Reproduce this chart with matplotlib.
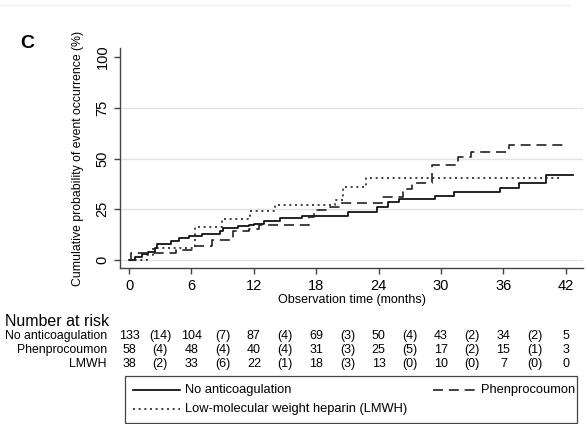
import numpy as np
import matplotlib
matplotlib.use("Agg")
import matplotlib.pyplot as plt
from matplotlib.transforms import blended_transform_factory
from matplotlib.lines import Line2D
from matplotlib.patches import Rectangle

plt.rcParams["font.family"] = ["Liberation Sans", "DejaVu Sans"]

# step curves: (time in months, cumulative %) after each jump
none_t = [0, 0.6, 1.2, 1.8, 2.5, 2.7, 4.0, 4.8, 5.8, 7.0, 8.7, 9.0, 10.5, 11.5, 12.0, 13.0, 14.5,
          16.6, 21.1, 23.8, 24.9, 26.0, 29.4, 31.2, 35.7, 37.5, 40.1, 42.7]
none_p = [0, 1.5, 3.0, 4.0, 6.0, 8.0, 9.5, 11.0, 12.0, 13.0, 14.2, 16.0, 16.8, 17.5, 18.0, 19.2, 20.5,
          21.7, 23.5, 26.0, 28.7, 30.0, 31.6, 33.5, 35.4, 37.8, 42.0, 42.0]

phen_t = [0, 0.2, 4.5, 6.2, 8.0, 10.0, 11.5, 12.5, 17.3, 17.8, 19.3, 20.2, 24.3, 26.3, 27.2,
          29.1, 31.6, 32.9, 36.5, 42.2]
phen_p = [0, 3.4, 5.2, 7.0, 10.0, 14.5, 15.5, 17.2, 21.0, 24.5, 26.0, 28.0, 31.0, 35.0, 37.9,
          47.0, 50.7, 53.3, 56.6, 56.6]

lmwh_t = [0, 1.7, 2.3, 6.3, 8.9, 11.6, 14.0, 19.8, 20.6, 22.8, 41.4]
lmwh_p = [0, 2.6, 5.9, 16.3, 20.0, 24.0, 27.0, 29.5, 36.0, 40.4, 40.4]

xticks = [0, 6, 12, 18, 24, 30, 36, 42]
yticks = [0, 25, 50, 75, 100]

risk_labels = ["No anticoagulation", "Phenprocoumon", "LMWH"]
at_risk = [[133, 104, 87, 69, 50, 43, 34, 5],
           [58, 48, 40, 31, 25, 17, 15, 3],
           [38, 33, 22, 18, 13, 10, 7, 0]]
censored = [[14, 7, 4, 3, 4, 2, 2],
            [4, 4, 4, 3, 5, 2, 1],
            [2, 6, 1, 3, 0, 0, 0]]

W, H = 587, 424
fig = plt.figure(figsize=(W / 100, H / 100), dpi=100)
ax = fig.add_axes([120 / W, 1 - 268 / H, (583 - 120) / W, (268 - 48) / H])

for y in [0, 25, 50, 75]:
    ax.axhline(y, color="#e3e3e3", lw=1.0, zorder=0)

ax.step(none_t, none_p, where="post", color="black", lw=1.2)
ax.step(phen_t, phen_p, where="post", color="#222222", lw=1.2, dashes=(6, 3.5))
ax.step(lmwh_t, lmwh_p, where="post", color="#222222", lw=1.2, dashes=(1.2, 2.2))

ax.set_xlim(-0.87, 43.65)
ax.set_ylim(-3.9, 104.4)
ax.set_xticks(xticks)
ax.set_yticks(yticks)
ax.tick_params(axis="both", labelsize=10.5, color="#444444", length=4, width=1)
ax.tick_params(axis="x", pad=4)
for lab in ax.get_yticklabels():
    lab.set_rotation(90)
    lab.set_va("center")
for s in ["top", "right"]:
    ax.spines[s].set_visible(False)
for s in ["left", "bottom"]:
    ax.spines[s].set_color("#444444")
    ax.spines[s].set_linewidth(1.0)
ax.set_xlabel("Observation time (months)", fontsize=9, labelpad=1)
ax.set_ylabel("Cumulative probability of event occurrence (%)", fontsize=8.8, labelpad=8)

fig.text(20 / W, 1 - 43 / H, "C", fontsize=14, fontweight="bold", va="center")
fig.add_artist(Line2D([0, 570 / W], [1 - 5 / H, 1 - 5 / H], color="#eeeeee", lw=1))

# number at risk table
tr = blended_transform_factory(ax.transData, fig.transFigure)
fig.text(5 / W, 1 - 321 / H, "Number at risk", fontsize=11.5, va="center")
row_y = [336, 350, 364]
for i, lab in enumerate(risk_labels):
    yy = 1 - row_y[i] / H
    fig.text(107 / W, yy, lab, fontsize=8.8, ha="right", va="center")
    for t, n in zip(xticks, at_risk[i]):
        ax.text(t, yy, str(n), transform=tr, fontsize=9, ha="center", va="center")
    for t, c in zip(xticks[:-1], censored[i]):
        ax.text(t + 3, yy, "(%d)" % c, transform=tr, fontsize=9, ha="center", va="center")

# legend box
fig.add_artist(Rectangle((125 / W, 1 - 423 / H), (577 - 125) / W, (423 - 376) / H,
                         transform=fig.transFigure, fill=False, ec="#444444", lw=0.9))
ly1, ly2 = 1 - 390 / H, 1 - 409 / H
fig.add_artist(Line2D([133 / W, 180 / W], [ly1, ly1], color="black", lw=1.2))
fig.text(185 / W, ly1, "No anticoagulation", fontsize=9.3, va="center")
fig.add_artist(Line2D([433 / W, 475 / W], [ly1, ly1], color="#222222", lw=1.2, dashes=(6, 3.5)))
fig.text(481 / W, ly1, "Phenprocoumon", fontsize=9.3, va="center")
fig.add_artist(Line2D([133 / W, 180 / W], [ly2, ly2], color="#222222", lw=1.2, dashes=(1.2, 2.2)))
fig.text(185 / W, ly2, "Low-molecular weight heparin (LMWH)", fontsize=9.3, va="center")

fig.savefig("out.png", dpi=100)
